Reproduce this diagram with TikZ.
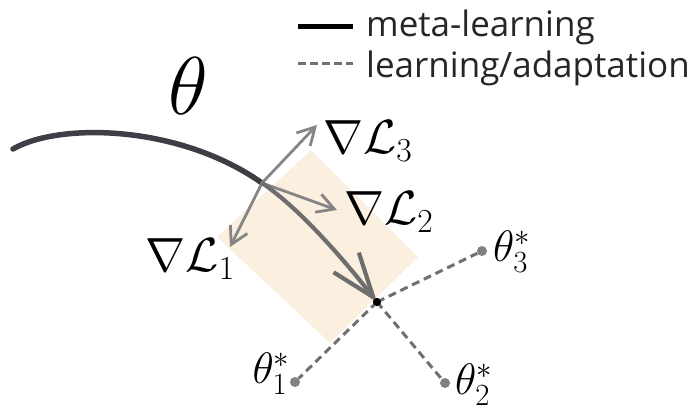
\RequirePackage{fix-cm}
\documentclass[tikz,border=0pt]{standalone}
\usepackage{fontspec}
\setsansfont{Open Sans}
\usetikzlibrary{arrows.meta}
\definecolor{beige}{HTML}{FBF0E0}
\definecolor{curvecol}{HTML}{3E3E46}
\definecolor{gradcol}{HTML}{858585}
\definecolor{updcol}{HTML}{6E6E6E}
\definecolor{dashcol}{HTML}{707070}
\definecolor{dotcol}{HTML}{808080}
\tikzset{
  metaline/.style={line width=5.5pt, color=curvecol, line cap=round},
  gradarrow/.style={line width=2.8pt, color=gradcol, -{Straight Barb[length=17pt,width=19pt,line width=2.8pt]}},
  updarrow/.style={line width=4.2pt, color=updcol, -{Straight Barb[length=44pt,width=32pt,line width=4.2pt]}},
  adaptline/.style={line width=3pt, color=dashcol, dash pattern=on 8pt off 5pt},
  graydot/.style={circle, fill=dotcol, inner sep=0pt, minimum size=10pt},
  lbl/.style={inner sep=0pt, font=\fontsize{48}{48}\selectfont},
  tlbl/.style={inner sep=0pt, font=\fontsize{44}{44}\selectfont},
  legtext/.style={inner sep=0pt, anchor=base west, font=\sffamily\fontsize{35}{35}\selectfont, text=black!85}
}
\begin{document}
\begin{tikzpicture}[x=1pt,y=-1pt]
\useasboundingbox (0,0) rectangle (697,413);
% region
\coordinate (rt) at (311,150);
\coordinate (rr) at (418,257);
\coordinate (rb) at (330,343);
\coordinate (rl) at (217,237);
\fill[beige] (rt) -- (rr) -- (rb) -- (rl) -- cycle;
% points
\coordinate (start) at (13,149);
\coordinate (J) at (262,183);
\node[circle, fill=black, inner sep=0pt, minimum size=8pt] (P) at (377,302) {};
\node[graydot] (t1) at (295,382) {};
\node[graydot] (t2) at (445,383) {};
\node[graydot] (t3) at (482,251) {};
% dashed adaptation
\draw[adaptline] (P.center) -- (t1);
\draw[adaptline] (P.center) -- (t2);
\draw[adaptline] (P.center) -- (t3);
% meta-learning curve
\draw[metaline] (start) .. controls (60,122) and (180,125) .. (J);
% gradients
\coordinate (g3) at (317,125);
\coordinate (g2) at (337,210);
\coordinate (g1) at (230,247);
\draw[gradarrow] (J) -- (g3);
\draw[gradarrow] (J) -- (g2);
\draw[gradarrow] (J) -- (g1);
% update arrow
\draw[updarrow] (J) .. controls (302,210) and (349,266) .. (P.center);
\node[circle, fill=black, inner sep=0pt, minimum size=8pt] at (P) {};
% labels
\node[inner sep=0pt, font=\fontsize{82}{82}\selectfont] (th) at (188,86) {$\theta$};
\node[lbl, anchor=west] (L3) at (323,141) {$\nabla\mathcal{L}_3$};
\node[lbl, anchor=west] (L2) at (344,212) {$\nabla\mathcal{L}_2$};
\node[lbl, anchor=east] (L1) at (235,259) {$\nabla\mathcal{L}_1$};
\node[tlbl, anchor=west] (T3) at (493,252) {$\theta_3^*$};
\node[tlbl, anchor=west] (T2) at (455,385) {$\theta_2^*$};
\node[tlbl, anchor=east] (T1) at (290,374) {$\theta_1^*$};
% legend
\coordinate (la) at (298,26);
\coordinate (lb) at (353,26);
\coordinate (lc) at (298,63);
\coordinate (ld) at (353,63);
\draw[line width=5pt, color=black] (la) -- (lb);
\draw[line width=3pt, color=dashcol, dash pattern=on 8pt off 4pt] (lc) -- (ld);
\node[legtext] (m1) at (366,36) {meta-learning};
\node[legtext] (m2) at (366,77) {learning/adaptation};
\end{tikzpicture}
\end{document}
